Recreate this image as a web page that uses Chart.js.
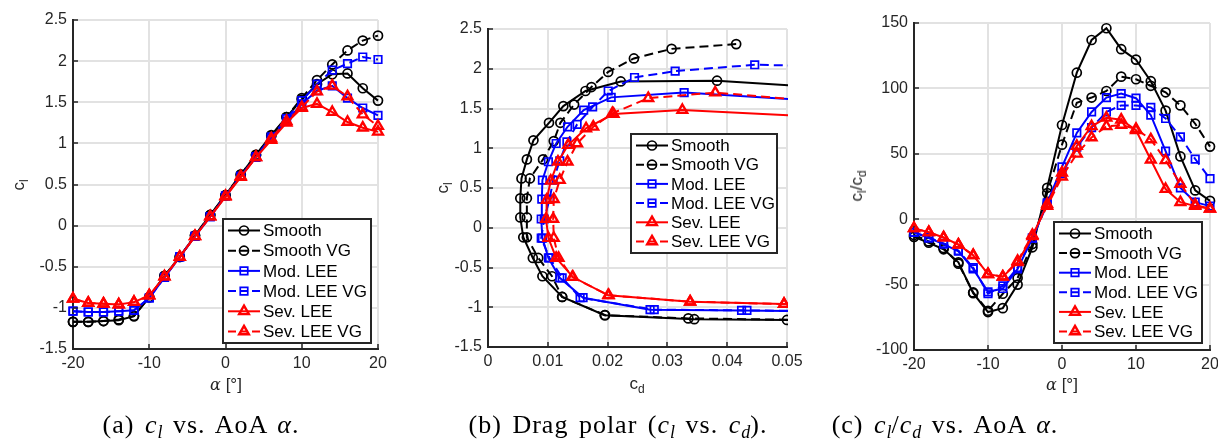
<!DOCTYPE html>
<html>
<head>
<meta charset="utf-8">
<title>Airfoil polars</title>
<script src="https://cdn.jsdelivr.net/npm/chart.js@4.4.0/dist/chart.umd.min.js"></script>
<style>
  html, body { margin: 0; padding: 0; background: #fff; overflow: hidden; }
  body { width: 1218px; height: 439px; position: relative; }
  canvas { position: absolute; top: 0; }
  .lab {
    position: absolute; white-space: nowrap; color: #262626;
    font-family: 'Liberation Sans', Arial, sans-serif; font-size: 17px;
    transform: translate(-50%, -50%);
  }
  .lab.rot { transform: translate(-50%, -50%) rotate(-90deg); }
  .lab sub { font-size: 12px; vertical-align: -4px; line-height: 0; }
  .greek { font-family: 'DejaVu Serif', serif; font-style: italic; font-size: 16px; }
  .cap {
    position: absolute; top: 425px; white-space: nowrap; color: #000;
    font-family: 'Liberation Serif', 'DejaVu Serif', serif; font-size: 26px;
    letter-spacing: 1px; word-spacing: 3px;
    transform: translate(-50%, -50%);
  }
  .cap sub { font-size: 18px; vertical-align: -5px; line-height: 0; letter-spacing: 0; }
</style>
</head>
<body>
<canvas id="chartA" width="400" height="439" style="left:0px"></canvas>
<canvas id="chartB" width="410" height="439" style="left:400px"></canvas>
<canvas id="chartC" width="430" height="439" style="left:810px"></canvas>

<div class="lab rot" style="left:19px; top:185px">c<sub>l</sub></div>
<div class="lab" style="left:226px; top:385px"><span class="greek">α</span> [°]</div>
<div class="lab rot" style="left:443px; top:188px">c<sub>l</sub></div>
<div class="lab" style="left:637px; top:384px">c<sub>d</sub></div>
<div class="lab rot" style="left:857px; top:186px">c<sub>l</sub>/c<sub>d</sub></div>
<div class="lab" style="left:1062px; top:385px"><span class="greek">α</span> [°]</div>

<div class="cap" style="left:201px">(a) <i>c<sub>l</sub></i> vs. AoA <i>α</i>.</div>
<div class="cap" style="left:618px">(b) Drag polar (<i>c<sub>l</sub></i> vs. <i>c<sub>d</sub></i>).</div>
<div class="cap" style="left:945px">(c) <i>c<sub>l</sub></i>/<i>c<sub>d</sub></i> vs. AoA <i>α</i>.</div>

<script>
// Angle of attack [deg]
const alpha = [-20, -18, -16, -14, -12, -10, -8, -6, -4, -2, 0, 2, 4, 6, 8, 10, 12, 14, 16, 18, 20];

// Lift coefficient
const clSmooth   = [-1.17, -1.17, -1.16, -1.15, -1.10, -0.87, -0.61, -0.38, -0.12, 0.13, 0.37, 0.62, 0.86, 1.10, 1.32, 1.53, 1.72, 1.84, 1.85, 1.67, 1.52];
const clSmoothVG = [-1.17, -1.17, -1.16, -1.14, -1.10, -0.87, -0.61, -0.38, -0.12, 0.13, 0.37, 0.62, 0.86, 1.09, 1.32, 1.55, 1.77, 1.96, 2.13, 2.25, 2.31];
const clModLEE   = [-1.04, -1.05, -1.05, -1.04, -1.03, -0.88, -0.63, -0.38, -0.13, 0.11, 0.36, 0.60, 0.83, 1.06, 1.27, 1.48, 1.64, 1.70, 1.55, 1.43, 1.34];
const clModLEEVG = [-1.04, -1.05, -1.05, -1.04, -1.03, -0.88, -0.63, -0.38, -0.13, 0.11, 0.36, 0.60, 0.84, 1.08, 1.30, 1.52, 1.72, 1.89, 1.97, 2.05, 2.02];
const clSevLEE   = [-0.89, -0.94, -0.95, -0.96, -0.93, -0.85, -0.62, -0.38, -0.13, 0.11, 0.35, 0.59, 0.83, 1.04, 1.25, 1.43, 1.48, 1.38, 1.26, 1.19, 1.14];
const clSevLEEVG = [-0.89, -0.94, -0.95, -0.96, -0.93, -0.85, -0.62, -0.38, -0.13, 0.11, 0.36, 0.60, 0.83, 1.06, 1.27, 1.44, 1.63, 1.70, 1.57, 1.35, 1.21];

// Drag coefficient
const cdSmooth   = [0.087, 0.065, 0.050, 0.0345, 0.0195, 0.0124, 0.0091, 0.0075, 0.0059, 0.0054, 0.0054, 0.0056, 0.0065, 0.0076, 0.0102, 0.0126, 0.0163, 0.0222, 0.0383, 0.076, 0.109];
const cdSmoothVG = [0.097, 0.069, 0.053, 0.0335, 0.0196, 0.0124, 0.0107, 0.0084, 0.0065, 0.0065, 0.0065, 0.0070, 0.0092, 0.0110, 0.0121, 0.0144, 0.0173, 0.0201, 0.0244, 0.0307, 0.0415];
const cdModLEE   = [0.104, 0.0724, 0.0553, 0.0424, 0.0271, 0.0159, 0.0120, 0.0101, 0.0091, 0.0089, 0.0090, 0.0091, 0.0101, 0.0114, 0.0133, 0.0160, 0.0206, 0.0328, 0.0646, 0.110, 0.134];
const cdModLEEVG = [0.104, 0.0750, 0.0568, 0.0433, 0.0278, 0.0154, 0.0124, 0.0103, 0.0089, 0.0094, 0.0103, 0.0109, 0.0120, 0.0132, 0.0149, 0.0175, 0.0201, 0.0245, 0.0313, 0.0446, 0.0652];
const cdSevLEE   = [0.127, 0.094, 0.068, 0.0495, 0.0338, 0.0201, 0.0142, 0.0114, 0.0101, 0.0097, 0.0098, 0.0105, 0.0117, 0.0134, 0.0164, 0.0210, 0.0325, 0.060, 0.097, 0.119, 0.1425];
const cdSevLEEVG = [0.127, 0.094, 0.068, 0.0495, 0.0338, 0.0202, 0.0141, 0.0118, 0.0110, 0.0109, 0.0110, 0.0120, 0.0133, 0.0149, 0.0176, 0.0208, 0.0268, 0.0380, 0.0585, 0.123, 0.151];

// Lift-to-drag ratio
const ldSmooth   = [-13.5, -18, -23, -33, -56.5, -71, -68, -50, -21.5, 24, 72, 112, 137, 146, 130, 122, 105.5, 83, 48, 22, 14];
const ldSmoothVG = [-12, -17, -22, -34, -56, -70, -57, -45, -19, 20, 57, 89, 93, 98, 109, 107, 102, 97, 87, 73, 55.5];
const ldModLEE   = [-10, -14.5, -19, -24.5, -38, -55.5, -53, -38, -14.5, 12.5, 40, 66, 82, 93, 96, 92.5, 79.5, 52, 24, 13, 10];
const ldModLEEVG = [-10, -14, -18.5, -24, -37, -57, -51, -37, -14.5, 11.5, 35, 55, 70, 82, 87, 87, 85.5, 77, 63, 46, 31];
const ldSevLEE   = [-7, -10, -14, -19.5, -27.5, -42, -44, -33, -13, 11.5, 35.5, 56, 71, 77.5, 76, 68, 45.5, 23, 13, 10, 8];
const ldSevLEEVG = [-7, -10, -14, -19.5, -27.5, -42, -44, -32, -12, 10, 32.5, 50, 62.5, 71, 72, 69, 61, 45, 27, 11, 8];

// Tick values
const alphaTicks = [-20, -10, 0, 10, 20];
const clTicks = [-1.5, -1, -0.5, 0, 0.5, 1, 1.5, 2, 2.5];
const cdTicks = [0, 0.01, 0.02, 0.03, 0.04, 0.05];
const ldTicks = [-100, -50, 0, 50, 100, 150];

const seriesNames = ['Smooth', 'Smooth VG', 'Mod. LEE', 'Mod. LEE VG', 'Sev. LEE', 'Sev. LEE VG'];
const seriesColors = ['#000000', '#000000', '#0000ff', '#0000ff', '#ff0000', '#ff0000'];
const seriesMarkers = ['circle', 'circle', 'rect', 'rect', 'triangle', 'triangle'];
const seriesDashed = [false, true, false, true, false, true];
const markerRadius = { circle: 4.5, rect: 5.3, triangle: 5.6 };
const markerWidth = { circle: 1.7, rect: 1.7, triangle: 2.4 };

const tickColor = '#262626';
const gridColor = '#e2e2e2';
const sansFont = "'Liberation Sans', Arial, sans-serif";

function makeDatasets(xLists, yLists, clip) {
    return yLists.map((ys, s) => ({
        label: seriesNames[s],
        data: ys.map((y, i) => ({ x: xLists[s][i], y: y })),
        showLine: true,
        tension: 0,
        borderColor: seriesColors[s],
        borderWidth: 2,
        borderDash: seriesDashed[s] ? [9, 5] : [],
        pointStyle: seriesMarkers[s],
        pointRadius: markerRadius[seriesMarkers[s]],
        pointBorderWidth: markerWidth[seriesMarkers[s]],
        pointBorderColor: seriesColors[s],
        pointBackgroundColor: 'rgba(0,0,0,0)',
        order: 5 - s,   // last series on top
        clip: clip
    }));
}

function tickLabel(v) {
    return String(Math.round(v * 1000) / 1000);
}

function makeScale(min, max, ticks, fixedSize, isX) {
    return {
        type: 'linear',
        min: min,
        max: max,
        afterBuildTicks: (scale) => { scale.ticks = ticks.map(v => ({ value: v })); },
        afterFit: (scale) => {
            if (isX) scale.height = fixedSize; else scale.width = fixedSize;
        },
        grid: { color: gridColor, lineWidth: 2, drawTicks: false },
        border: { color: tickColor, width: 2 },
        ticks: {
            color: tickColor,
            font: { family: sansFont, size: 16 },
            padding: isX ? 5 : 6,
            callback: tickLabel,
            maxRotation: 0
        }
    };
}

function drawMarker(ctx, style, x, y, r) {
    ctx.beginPath();
    if (style === 'circle') {
        ctx.arc(x, y, r, 0, Math.PI * 2);
    } else if (style === 'rect') {
        const h = r * Math.SQRT1_2;
        ctx.rect(x - h, y - h, 2 * h, 2 * h);
    } else {
        for (let k = 0; k < 3; k++) {
            const a = k * 2 * Math.PI / 3;
            const px = x + Math.sin(a) * r, py = y - Math.cos(a) * r;
            if (k === 0) ctx.moveTo(px, py); else ctx.lineTo(px, py);
        }
        ctx.closePath();
    }
    ctx.stroke();
}

// Boxed legend with line + marker samples
const boxLegend = {
    id: 'boxLegend',
    afterDatasetsDraw(chart, args, opts) {
        const ctx = chart.ctx;
        const { x, y, w, h } = opts;
        ctx.save();
        ctx.fillStyle = '#ffffff';
        ctx.fillRect(x, y, w, h);
        ctx.strokeStyle = tickColor;
        ctx.lineWidth = 2;
        ctx.strokeRect(x, y, w, h);
        const step = (h - 23) / 5;
        chart.data.datasets.forEach((ds, i) => {
            const cy = y + 11.5 + step * i;
            ctx.strokeStyle = ds.borderColor;
            ctx.lineWidth = 2;
            ctx.beginPath();
            if (ds.borderDash.length) {
                // three short dashes, the middle one under the marker
                [[5, 13], [17, 25], [29, 37]].forEach(([a, b]) => {
                    ctx.moveTo(x + a, cy);
                    ctx.lineTo(x + b, cy);
                });
            } else {
                ctx.moveTo(x + 5, cy);
                ctx.lineTo(x + 37, cy);
            }
            ctx.stroke();
            ctx.lineWidth = ds.pointBorderWidth;
            drawMarker(ctx, ds.pointStyle, x + 21, cy, ds.pointRadius);
            ctx.fillStyle = '#000000';
            ctx.font = '17px ' + sansFont;
            ctx.textBaseline = 'middle';
            ctx.fillText(ds.label, x + 40, cy + 1);
        });
        ctx.restore();
    }
};

// Short tick marks pointing into the plot area
const innerTicks = {
    id: 'innerTicks',
    afterDatasetsDraw(chart) {
        const { ctx, chartArea, scales } = chart;
        ctx.save();
        ctx.strokeStyle = tickColor;
        ctx.lineWidth = 1.5;
        ctx.beginPath();
        scales.x.ticks.forEach(t => {
            const px = Math.round(scales.x.getPixelForValue(t.value));
            ctx.moveTo(px, chartArea.bottom);
            ctx.lineTo(px, chartArea.bottom - 5);
        });
        scales.y.ticks.forEach(t => {
            const py = Math.round(scales.y.getPixelForValue(t.value));
            ctx.moveTo(chartArea.left, py);
            ctx.lineTo(chartArea.left + 5, py);
        });
        ctx.stroke();
        ctx.restore();
    }
};

function makeChart(id, datasets, xScale, yScale, padding, legendBox) {
    return new Chart(document.getElementById(id), {
        type: 'scatter',
        data: { datasets: datasets },
        options: {
            responsive: false,
            animation: false,
            events: [],
            layout: { padding: padding },
            scales: { x: xScale, y: yScale },
            plugins: {
                legend: { display: false },
                tooltip: { enabled: false },
                boxLegend: legendBox
            }
        },
        plugins: [innerTicks, boxLegend]
    });
}

const allAlpha = [alpha, alpha, alpha, alpha, alpha, alpha];

// (a) lift coefficient vs. angle of attack
makeChart('chartA',
    makeDatasets(allAlpha, [clSmooth, clSmoothVG, clModLEE, clModLEEVG, clSevLEE, clSevLEEVG], false),
    makeScale(-20, 20, alphaTicks, 40, true),
    makeScale(-1.5, 2.5, clTicks, 60, false),
    { left: 13, right: 22, top: 20, bottom: 50 },
    { x: 223, y: 219, w: 148, h: 124 });

// (b) drag polar
makeChart('chartB',
    makeDatasets([cdSmooth, cdSmoothVG, cdModLEE, cdModLEEVG, cdSevLEE, cdSevLEEVG],
                 [clSmooth, clSmoothVG, clModLEE, clModLEEVG, clSevLEE, clSevLEEVG],
                 { left: 10, top: 10, right: 1, bottom: 10 }),
    makeScale(0, 0.05, cdTicks, 40, true),
    makeScale(-1.5, 2.5, clTicks, 60, false),
    { left: 28, right: 23, top: 29, bottom: 52 },
    { x: 231, y: 134, w: 146, h: 119 });

// (c) lift-to-drag ratio vs. angle of attack
makeChart('chartC',
    makeDatasets(allAlpha, [ldSmooth, ldSmoothVG, ldModLEE, ldModLEEVG, ldSevLEE, ldSevLEEVG], false),
    makeScale(-20, 20, alphaTicks, 40, true),
    makeScale(-100, 150, ldTicks, 60, false),
    { left: 44, right: 30, top: 23, bottom: 49 },
    { x: 244, y: 222, w: 148, h: 121 });
</script>
</body>
</html>
